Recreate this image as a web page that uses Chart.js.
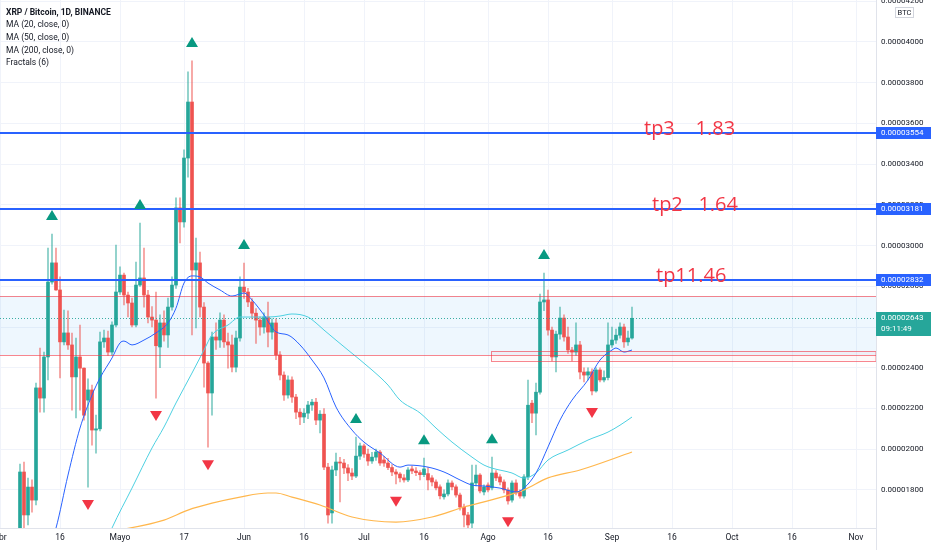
<!DOCTYPE html>
<html>
<head>
<meta charset="utf-8">
<script src="https://cdn.jsdelivr.net/npm/chart.js@4.4.1/dist/chart.umd.min.js"></script>
<style>
html, body { margin: 0; padding: 0; background: #fff; }
#wrap { position: relative; width: 932px; height: 550px; }
</style>
</head>
<body>
<div id="wrap"><canvas id="chart" width="932" height="550"></canvas></div>
<script>
// Prices are in satoshi (1e-8 BTC). Day 0 = 1 Apr, one candle per day.
const firstDay = 5;
const opens = [
  1590, 1888, 1677, 1814, 1750, 2301, 2251, 2453, 2821, 2915,
  2782, 2527, 2571, 2512, 2355, 2453, 2398, 2241, 2291, 2094,
  2100, 2527, 2546, 2477, 2610, 2772, 2855, 2757, 2718, 2610,
  2806, 2841, 2757, 2649, 2634, 2502, 2620, 2561, 2698, 2806,
  3185, 3116, 3430, 3705, 2880, 2915, 2698, 2423, 2276, 2551,
  2536, 2634, 2527, 2512, 2403, 2546, 2796, 2772, 2723, 2668,
  2634, 2600, 2649, 2575, 2620, 2463, 2364, 2266, 2340, 2256,
  2182, 2158, 2177, 2217, 2231, 2143, 2172, 1912, 1687, 1898,
  1937, 1932, 1908, 1883, 1868, 1966, 2016, 1976, 1942, 1961,
  1986, 1947, 1932, 1910, 1888, 1878, 1859, 1849, 1903, 1893,
  1885, 1875, 1880, 1859, 1839, 1815, 1766, 1780, 1834, 1815,
  1775, 1716, 1677, 1637, 1834, 1873, 1790, 1824, 1810, 1883,
  1864, 1839, 1800, 1750, 1834, 1790, 1770, 1864, 2226, 2177,
  2280, 2723, 2733, 2585, 2453, 2565, 2644, 2551, 2487, 2477,
  2512, 2379, 2364, 2380, 2286, 2389, 2340, 2352, 2512, 2536,
  2560, 2600, 2527, 2546
];
const highs = [
  1927, 1937, 1858, 1849, 2325, 2497, 2477, 2988, 3057, 2988,
  2846, 2683, 2680, 2570, 2546, 2610, 2400, 2345, 2315, 2167,
  2575, 2585, 2580, 2625, 3002, 2895, 2865, 2772, 2742, 2919,
  3111, 2988, 2780, 2700, 2772, 2660, 2680, 2742, 2846, 3234,
  3234, 3470, 3853, 3907, 3037, 2968, 2720, 2430, 2575, 2620,
  2670, 2660, 2570, 2560, 2580, 2846, 2914, 2790, 2740, 2690,
  2650, 2670, 2723, 2640, 2640, 2480, 2380, 2360, 2355, 2270,
  2200, 2200, 2235, 2245, 2250, 2190, 2200, 1930, 1917, 1981,
  1960, 1950, 1925, 1905, 2060, 2030, 2025, 2000, 1985, 2000,
  1995, 1965, 1955, 1925, 1900, 1885, 1875, 1910, 1917, 1910,
  1895, 1956, 1910, 1870, 1850, 1825, 1800, 1850, 1845, 1825,
  1785, 1730, 1690, 1922, 1922, 1880, 1825, 1835, 1961, 1895,
  1875, 1850, 1810, 1845, 1850, 1800, 1875, 2340, 2240, 2325,
  2762, 2865, 2782, 2600, 2580, 2698, 2660, 2600, 2500, 2620,
  2530, 2400, 2400, 2395, 2400, 2400, 2385, 2620, 2600, 2590,
  2620, 2615, 2580, 2698
];
const lows = [
  1560, 1603, 1628, 1691, 1726, 2182, 2182, 2340, 2810, 2780,
  2350, 2512, 2490, 2192, 2153, 2192, 2143, 1814, 2020, 1981,
  2090, 2500, 2460, 2460, 2600, 2760, 2708, 2650, 2600, 2600,
  2800, 2698, 2620, 2600, 2251, 2400, 2530, 2500, 2683, 2790,
  3013, 3090, 3336, 2561, 2595, 2650, 2305, 2010, 2167, 2490,
  2500, 2500, 2398, 2380, 2380, 2530, 2740, 2700, 2640, 2520,
  2560, 2570, 2502, 2540, 2440, 2340, 2240, 2250, 2230, 2150,
  2120, 2130, 2150, 2190, 2120, 2080, 1900, 1637, 1637, 1870,
  1741, 1880, 1845, 1850, 1860, 1950, 1960, 1920, 1930, 1945,
  1920, 1915, 1900, 1870, 1830, 1839, 1838, 1840, 1880, 1870,
  1849, 1865, 1800, 1820, 1800, 1756, 1755, 1770, 1800, 1765,
  1700, 1618, 1608, 1613, 1820, 1785, 1775, 1790, 1800, 1845,
  1825, 1785, 1730, 1740, 1775, 1760, 1760, 1850, 2130, 2070,
  2270, 2680, 2560, 2433, 2379, 2540, 2530, 2470, 2433, 2460,
  2345, 2330, 2340, 2266, 2280, 2330, 2330, 2340, 2500, 2520,
  2545, 2500, 2510, 2540
];
const closes = [
  1888, 1677, 1814, 1750, 2301, 2251, 2453, 2821, 2915, 2782,
  2527, 2571, 2512, 2355, 2453, 2398, 2167, 2291, 2094, 2100,
  2527, 2546, 2477, 2610, 2772, 2855, 2757, 2718, 2610, 2806,
  2841, 2757, 2649, 2634, 2508, 2620, 2561, 2698, 2806, 3185,
  3116, 3430, 3705, 2880, 2915, 2698, 2423, 2276, 2551, 2536,
  2634, 2527, 2512, 2403, 2546, 2796, 2772, 2723, 2668, 2634,
  2600, 2649, 2575, 2620, 2463, 2364, 2266, 2340, 2256, 2182,
  2158, 2177, 2217, 2231, 2143, 2172, 1912, 1677, 1898, 1937,
  1932, 1908, 1883, 1868, 1966, 2016, 1976, 1942, 1961, 1986,
  1932, 1932, 1910, 1888, 1878, 1859, 1849, 1898, 1893, 1885,
  1875, 1903, 1849, 1839, 1810, 1771, 1780, 1834, 1815, 1775,
  1716, 1677, 1628, 1834, 1873, 1795, 1814, 1800, 1883, 1859,
  1839, 1800, 1746, 1834, 1785, 1770, 1864, 2216, 2177, 2280,
  2723, 2733, 2585, 2453, 2565, 2644, 2551, 2487, 2477, 2512,
  2379, 2364, 2380, 2286, 2389, 2340, 2352, 2512, 2536, 2560,
  2600, 2527, 2546, 2643
];

// moving averages (day, value)
const ma20Days = [12, 14, 17, 20, 23, 25, 28, 30, 31, 33, 36, 39, 42, 44, 46, 48, 50, 52, 55, 58, 61, 63, 66, 69, 72, 75, 78, 81, 84, 88, 91, 95, 100, 102, 107, 111, 115, 118, 121, 125, 129, 131, 134, 137, 140, 143, 147, 150, 153, 154, 156, 158];
const ma20 = [1500, 1613, 1873, 2104, 2266, 2350, 2448, 2522, 2531, 2512, 2536, 2571, 2620, 2693, 2816, 2851, 2846, 2816, 2782, 2752, 2767, 2733, 2659, 2576, 2561, 2512, 2438, 2350, 2207, 2094, 2035, 1981, 1912, 1922, 1912, 1888, 1849, 1824, 1819, 1809, 1790, 1809, 1883, 2011, 2143, 2241, 2340, 2438, 2487, 2497, 2477, 2487];
const ma50Days = [26, 28, 33, 38, 41, 44, 48, 51, 53, 57, 60, 63, 67, 70, 73, 77, 79, 81, 87, 93, 97, 100, 105, 109, 113, 118, 121, 123, 128, 131, 134, 137, 142, 147, 152, 155, 158];
const ma50 = [1520, 1613, 1809, 2006, 2109, 2227, 2374, 2487, 2561, 2610, 2649, 2649, 2649, 2654, 2664, 2649, 2620, 2585, 2487, 2389, 2315, 2241, 2178, 2104, 2035, 1961, 1922, 1907, 1883, 1858, 1883, 1947, 1996, 2045, 2084, 2118, 2158];
const ma200Days = [20, 41, 47, 53, 60, 67, 69, 73, 80, 88, 99, 108, 116, 121, 131, 137, 145, 158];
const ma200 = [1570, 1652, 1701, 1735, 1765, 1785, 1785, 1765, 1726, 1667, 1642, 1667, 1716, 1741, 1800, 1859, 1898, 1986];

const fractalUpDays = [13, 35, 48, 61, 89, 106, 123, 136];
const fractalDownDays = [22, 39, 52, 99, 127, 148];

// drawings on the chart
const tpLevels = [3554, 3181, 2832];
const tpNotes = ['tp3    1.83', 'tp2   1.64', 'tp11.46'];
const tpNoteDays = [161, 163, 164];
const zoneHigh = 2752, zoneLow = 2462;
const boxStartDay = 122.8, boxHigh = 2482, boxLow = 2435;
const lastPrice = 2643;
const countdown = '09:11:49';

const tickDays = [0, 15, 30, 46, 61, 76, 91, 106, 122, 137, 153, 168, 183, 198, 214];
const tickLabels = ['Abr', '16', 'Mayo', '17', 'Jun', '16', 'Jul', '16', 'Ago', '16', 'Sep', '16', 'Oct', '16', 'Nov'];
const priceTicks = [1800, 2000, 2200, 2400, 2600, 2800, 3000, 3200, 3400, 3600, 3800, 4000, 4200];
const legendLines = ['XRP / Bitcoin, 1D, BINANCE', 'MA (20, close, 0)', 'MA (50, close, 0)', 'MA (200, close, 0)', 'Fractals (6)'];

const fmt = v => (v / 1e8).toFixed(8);
const upColor = '#26a69a', downColor = '#ef5350';
const candleDays = opens.map((_, i) => firstDay + i);
const isUp = closes.map((c, i) => c >= opens[i]);
const pts = (days, vals) => days.map((d, i) => ({ x: d, y: vals[i] }));

function priceTag(ctx, left, y, bg, lines) {
    const h = lines.length > 1 ? 24 : 12;
    ctx.fillStyle = bg;
    ctx.fillRect(left, Math.round(y - 6), 55, h);
    ctx.fillStyle = '#ffffff';
    ctx.font = '8px Roboto';
    ctx.textBaseline = 'middle';
    ctx.textAlign = 'left';
    lines.forEach((t, i) => ctx.fillText(t, left + 5, y + i * 11));
}

const overlay = {
    id: 'overlay',
    beforeDatasetsDraw(chart) {
        const { ctx, chartArea: a, scales: { x, y } } = chart;
        ctx.save();
        const zt = y.getPixelForValue(zoneHigh), zb = y.getPixelForValue(zoneLow);
        ctx.fillStyle = 'rgba(33,150,243,0.08)';
        ctx.fillRect(a.left, zt, a.right - a.left, zb - zt);
        const bx = x.getPixelForValue(boxStartDay);
        const bt = y.getPixelForValue(boxHigh), bb = y.getPixelForValue(boxLow);
        ctx.fillStyle = 'rgba(242,54,69,0.04)';
        ctx.fillRect(bx, bt, a.right - bx, bb - bt);
        ctx.restore();
    },
    afterDraw(chart) {
        const { ctx, chartArea: a, scales: { x, y } } = chart;
        ctx.save();

        // zone borders
        ctx.strokeStyle = 'rgba(242,54,69,0.6)';
        ctx.lineWidth = 1;
        [zoneHigh, zoneLow].forEach(v => {
            const py = Math.round(y.getPixelForValue(v)) + 0.5;
            ctx.beginPath(); ctx.moveTo(a.left, py); ctx.lineTo(a.right, py); ctx.stroke();
        });
        const bx = Math.round(x.getPixelForValue(boxStartDay)) + 0.5;
        const bt = Math.round(y.getPixelForValue(boxHigh)) + 0.5;
        const bb = Math.round(y.getPixelForValue(boxLow)) + 0.5;
        ctx.strokeRect(bx, bt, a.right - bx, bb - bt);

        // last price dotted line
        const lp = Math.round(y.getPixelForValue(lastPrice)) + 0.5;
        ctx.strokeStyle = 'rgba(38,166,154,0.9)';
        ctx.setLineDash([1, 2]);
        ctx.beginPath(); ctx.moveTo(a.left, lp); ctx.lineTo(a.right, lp); ctx.stroke();
        ctx.setLineDash([]);

        // take profit lines
        ctx.strokeStyle = '#2962ff';
        ctx.lineWidth = 2;
        tpLevels.forEach(v => {
            const py = Math.round(y.getPixelForValue(v));
            ctx.beginPath(); ctx.moveTo(a.left, py); ctx.lineTo(a.right, py); ctx.stroke();
        });
        ctx.fillStyle = '#f23645';
        ctx.font = '20px "Open Sans"';
        ctx.textBaseline = 'alphabetic';
        tpNotes.forEach((t, i) => {
            ctx.fillText(t, x.getPixelForValue(tpNoteDays[i]), y.getPixelForValue(tpLevels[i]) + 2);
        });

        // fractal markers
        const tri = (cx, tipY, dir) => {
            ctx.beginPath();
            ctx.moveTo(cx, tipY);
            ctx.lineTo(cx - 6, tipY + dir * 10);
            ctx.lineTo(cx + 6, tipY + dir * 10);
            ctx.closePath();
            ctx.fill();
        };
        ctx.fillStyle = '#089981';
        fractalUpDays.forEach(d => {
            const py = y.getPixelForValue(highs[d - firstDay]);
            tri(x.getPixelForValue(d), py - 24, 1);
        });
        ctx.fillStyle = '#f23645';
        fractalDownDays.forEach(d => {
            const py = y.getPixelForValue(lows[d - firstDay]);
            tri(x.getPixelForValue(d), py + 23, -1);
        });

        // legend
        ctx.fillStyle = '#131722';
        ctx.textBaseline = 'middle';
        legendLines.forEach((t, i) => {
            ctx.font = (i === 0 ? 'bold ' : '') + '8.5px Roboto';
            ctx.fillText(t, 6, 12.5 + i * 12.7);
        });

        // right axis tags
        ctx.strokeStyle = '#e0e3eb';
        ctx.lineWidth = 1;
        ctx.beginPath(); ctx.moveTo(a.right + 0.5, 0); ctx.lineTo(a.right + 0.5, chart.height); ctx.stroke();
        tpLevels.forEach(v => priceTag(ctx, a.right, y.getPixelForValue(v), '#2962ff', [fmt(v)]));
        priceTag(ctx, a.right, y.getPixelForValue(lastPrice), '#26a69a', [fmt(lastPrice), countdown]);

        // currency box
        ctx.fillStyle = '#ffffff';
        ctx.fillRect(895, 7, 18, 10);
        ctx.strokeStyle = '#d1d4dc';
        ctx.strokeRect(895.5, 7.5, 18, 10);
        ctx.fillStyle = '#131722';
        ctx.font = '7.5px Roboto';
        ctx.textAlign = 'center';
        ctx.fillText('BTC', 904.5, 12.8);
        ctx.restore();
    }
};

new Chart(document.getElementById('chart'), {
    type: 'bar',
    data: {
        datasets: [
            {
                type: 'line', data: pts(ma20Days, ma20), borderColor: '#2962ff', borderWidth: 1,
                pointRadius: 0, cubicInterpolationMode: 'monotone', order: 0
            },
            {
                type: 'line', data: pts(ma50Days, ma50), borderColor: '#4dd0e1', borderWidth: 1,
                pointRadius: 0, cubicInterpolationMode: 'monotone', order: 0
            },
            {
                type: 'line', data: pts(ma200Days, ma200), borderColor: '#ffb74d', borderWidth: 1.2,
                pointRadius: 0, cubicInterpolationMode: 'monotone', order: 0
            },
            {
                data: candleDays.map((d, i) => ({ x: d, y: [opens[i], closes[i]] })),
                backgroundColor: isUp.map(u => u ? upColor : downColor),
                barThickness: 3, minBarLength: 1, grouped: false, order: 1
            },
            {
                data: candleDays.map((d, i) => ({ x: d, y: [lows[i], highs[i]] })),
                backgroundColor: isUp.map(u => u ? 'rgba(38,166,154,0.6)' : 'rgba(239,83,80,0.6)'),
                barThickness: 1, grouped: false, order: 2
            }
        ]
    },
    options: {
        responsive: false,
        animation: false,
        events: [],
        layout: { padding: 0 },
        plugins: { legend: { display: false }, tooltip: { enabled: false } },
        scales: {
            x: {
                type: 'linear', min: 0, max: 219, offset: false,
                grid: { color: '#f0f3fa', drawTicks: false, offset: false },
                border: { color: '#e0e3eb' },
                ticks: {
                    color: '#131722', font: { family: 'Roboto', size: 8.5 }, padding: 5,
                    maxRotation: 0, autoSkip: false,
                    callback: (v, i) => tickLabels[i]
                },
                afterBuildTicks: s => { s.ticks = tickDays.map(v => ({ value: v })); },
                afterFit: s => { s.height = 22; s.paddingLeft = 0; s.paddingRight = 0; }
            },
            y: {
                position: 'right', min: 1613, max: 4206,
                grid: { color: '#f0f3fa', drawTicks: false },
                border: { color: '#e0e3eb' },
                ticks: {
                    color: '#131722', font: { family: 'Roboto', size: 8 }, padding: 5,
                    callback: v => fmt(v)
                },
                afterBuildTicks: s => { s.ticks = priceTicks.map(v => ({ value: v })); },
                afterFit: s => { s.width = 56; s.paddingTop = 0; s.paddingBottom = 0; }
            }
        }
    },
    plugins: [overlay]
});
</script>
</body>
</html>
